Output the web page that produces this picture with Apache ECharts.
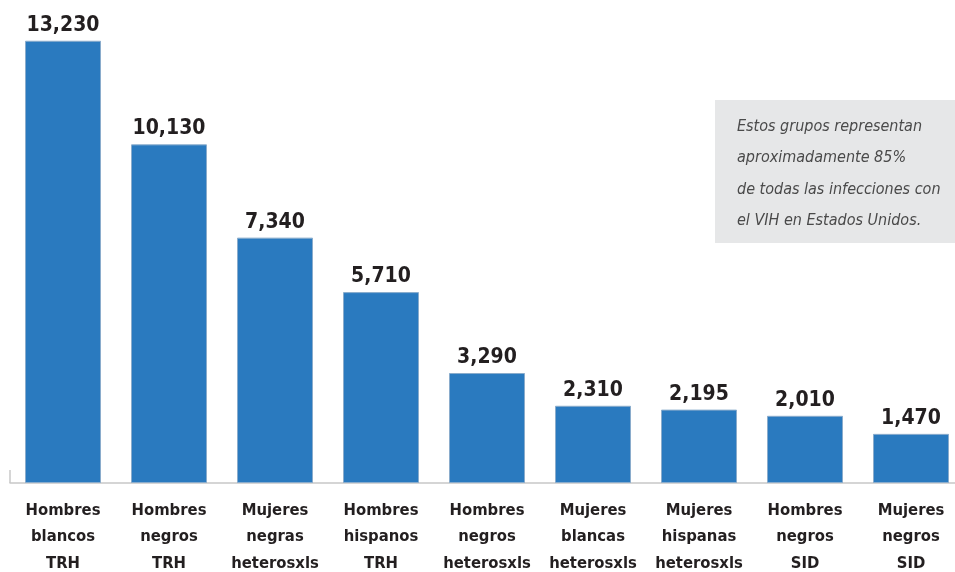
<!DOCTYPE html>
<html>
<head>
<meta charset="utf-8">
<script src="https://cdn.jsdelivr.net/npm/echarts@6/dist/echarts.min.js"></script>
<style>
  html, body { margin: 0; padding: 0; background: #fff; }
  #chart { width: 955px; height: 572px; }
</style>
</head>
<body>
<div id="chart"></div>
<script>
const categories = [
  'Hombres\nblancos\nTRH',
  'Hombres\nnegros\nTRH',
  'Mujeres\nnegras\nheterosxls',
  'Hombres\nhispanos\nTRH',
  'Hombres\nnegros\nheterosxls',
  'Mujeres\nblancas\nheterosxls',
  'Mujeres\nhispanas\nheterosxls',
  'Hombres\nnegros\nSID',
  'Mujeres\nnegros\nSID'
]

const infections = [13230, 10130, 7340, 5710, 3290, 2310, 2195, 2010, 1470]

const note = 'Estos grupos representan\naproximadamente 85%\nde todas las infecciones con\nel VIH en Estados Unidos.'

const font = '"Liberation Sans Narrow", "DejaVu Sans Condensed", "Roboto", sans-serif'

const chart = echarts.init(document.getElementById('chart'))

const option = {
  backgroundColor: '#fff',
  animation: false,

  grid: {
    left: 10,
    top: 15,
    width: 954,
    height: 468,
    outerBoundsMode: 'none'
  },

  xAxis: {
    type: 'category',
    data: categories,
    axisLine: {
      lineStyle: { color: '#c8c8c8', width: 1.5 }
    },
    axisTick: { show: false },
    axisLabel: {
      interval: 0,
      margin: 14,
      color: '#231f20',
      fontFamily: font,
      fontWeight: 'bold',
      fontSize: 16.5,
      lineHeight: 26.5
    }
  },

  yAxis: {
    type: 'value',
    min: 0,
    max: 14000,
    show: false,
    splitLine: { show: false }
  },

  series: [
    {
      type: 'bar',
      data: infections,
      barWidth: 76,
      itemStyle: {
        color: '#2a7abf',
        borderColor: '#8aaccc',
        borderWidth: 1
      },
      label: {
        show: true,
        position: 'top',
        distance: 5,
        color: '#231f20',
        fontFamily: font,
        fontWeight: 'bold',
        fontSize: 21,
        formatter: p => p.value.toLocaleString('en-US')
      }
    }
  ],

  graphic: [
    {
      type: 'line',
      shape: { x1: 10, y1: 470, x2: 10, y2: 483 },
      style: { stroke: '#c8c8c8', lineWidth: 1.5 }
    },
    {
      type: 'rect',
      shape: { x: 715, y: 100, width: 240, height: 143 },
      style: { fill: '#e6e7e8' }
    },
    {
      type: 'text',
      left: 737,
      top: 111,
      style: {
        text: note,
        fill: '#4a4a4a',
        fontFamily: font,
        fontStyle: 'italic',
        fontSize: 16,
        lineHeight: 31.5
      }
    }
  ]
}

chart.setOption(option)
</script>
</body>
</html>
